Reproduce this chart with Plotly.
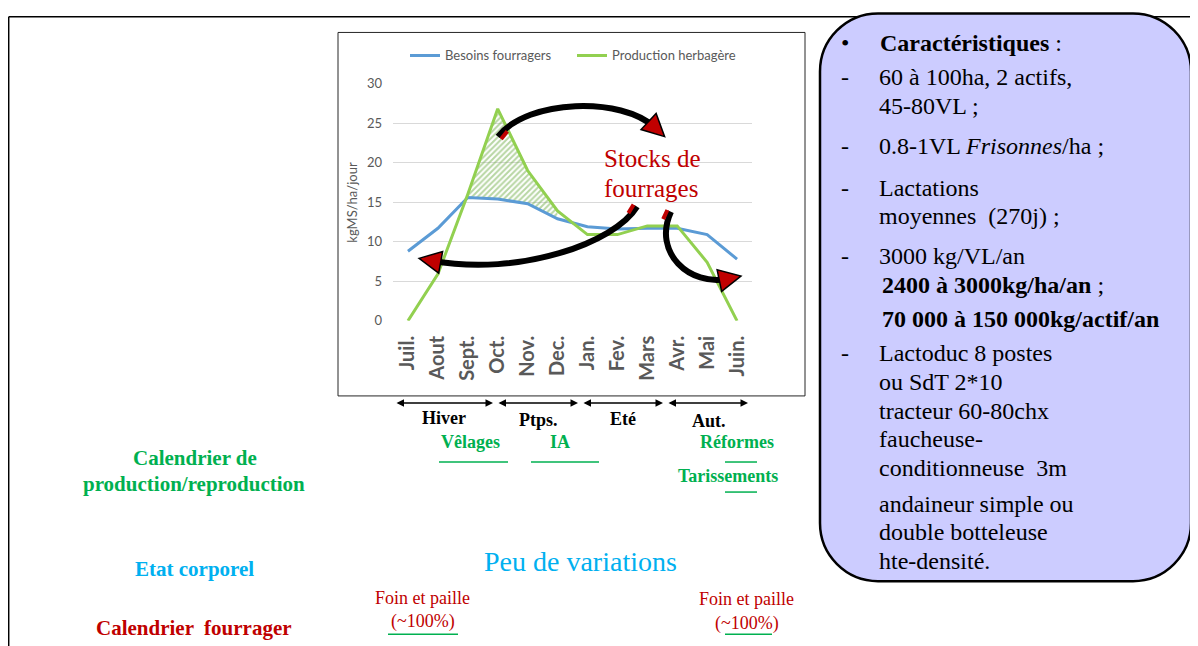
import plotly.graph_objects as go
import math

# ---------------- data ----------------
mois = ["Juil.", "Aout", "Sept.", "Oct.", "Nov.", "Dec.", "Jan.", "Fev.", "Mars", "Avr.", "Mai", "Juin."]
besoins_fourragers = [8.8, 11.7, 15.6, 15.4, 14.8, 12.9, 11.9, 11.6, 11.7, 11.7, 10.9, 7.8]
production_herbagere = [0, 5.9, 16.0, 26.8, 19.0, 13.9, 10.9, 10.9, 12.0, 12.0, 7.4, 0]
y_ticks = [0, 5, 10, 15, 20, 25, 30]
serie_noms = ["Besoins fourragers", "Production herbagère"]
excedent_debut, excedent_fin = 2, 6  # Sept. -> Dec. (hatched surplus)

saisons = ["Hiver", "Ptps.", "Eté", "Aut."]

# page offset / capture scaling compensation
OFFX, OFFY, SY = 8, 16, 0.974
W, H = 1190, 648


def px(x):
    return (x - OFFX) / W


def fy(y):
    return y / SY - OFFY


def py(y):
    return 1 - fy(y) / H


def P(x, y):
    return f"{px(x):.5f},{py(y):.5f}"


fig = go.Figure()

# hatched surplus between the two curves
fig.add_trace(go.Scatter(
    x=mois[excedent_debut:excedent_fin], y=besoins_fourragers[excedent_debut:excedent_fin],
    mode="lines", line=dict(width=0), showlegend=False, hoverinfo="skip"))
fig.add_trace(go.Scatter(
    x=mois[excedent_debut:excedent_fin], y=production_herbagere[excedent_debut:excedent_fin],
    mode="lines", line=dict(width=0), fill="tonexty", fillcolor="rgba(255,255,255,0)",
    fillpattern=dict(shape="/", fgcolor="#70AD47", bgcolor="rgba(255,255,255,0)", size=4, solidity=0.5),
    showlegend=False, hoverinfo="skip"))

fig.add_trace(go.Scatter(x=mois, y=besoins_fourragers, mode="lines", name=serie_noms[0],
                         line=dict(color="#5B9BD5", width=3)))
fig.add_trace(go.Scatter(x=mois, y=production_herbagere, mode="lines", name=serie_noms[1],
                         line=dict(color="#92D050", width=3)))

shapes = []
annotations = []

# outer slide frame (top edge clamped to the visible canvas)
top_y = 1 - 0.8 / H
shapes.append(dict(type="line", xref="paper", yref="paper", x0=px(8.7), y0=top_y, x1=px(1210), y1=top_y,
                   line=dict(color="#000000", width=1.5)))
shapes.append(dict(type="line", xref="paper", yref="paper", x0=px(8.7), y0=top_y, x1=px(8.7), y1=0,
                   line=dict(color="#000000", width=1.5)))
# chart box
shapes.append(dict(type="rect", xref="paper", yref="paper", x0=px(338), y0=py(32), x1=px(805), y1=py(395),
                   line=dict(color="#262626", width=1), layer="below"))

# rounded box on the right
L, T, R, B, r = 820, 13, 1191, 580, 58
k = 0.552 * r
box = (f"M{P(L + r, T)} L{P(R - r, T)} C{P(R - r + k, T)} {P(R, T + r - k)} {P(R, T + r)} "
       f"L{P(R, B - r)} C{P(R, B - r + k)} {P(R - r + k, B)} {P(R - r, B)} "
       f"L{P(L + r, B)} C{P(L + r - k, B)} {P(L, B - r + k)} {P(L, B - r)} "
       f"L{P(L, T + r)} C{P(L, T + r - k)} {P(L + r - k, T)} {P(L + r, T)} Z")
shapes.append(dict(type="path", xref="paper", yref="paper", path=box,
                   fillcolor="#CCCCFF", line=dict(color="#000000", width=2.5)))


# curved arrows (black body, red head)
def curved_arrow(p0, c1, c2, p1, head_len=22, head_w=11):
    path = f"M{P(*p0)} C{P(*c1)} {P(*c2)} {P(*p1)}"
    shapes.append(dict(type="path", xref="paper", yref="paper", path=path,
                       line=dict(color="#000000", width=6)))
    dx, dy = p1[0] - c2[0], p1[1] - c2[1]
    n = math.hypot(dx, dy)
    dx, dy = dx / n, dy / n
    nx, ny = -dy, dx
    tip = (p1[0] + dx * head_len * 0.6, p1[1] + dy * head_len * 0.6)
    base = (p1[0] - dx * head_len * 0.4, p1[1] - dy * head_len * 0.4)
    a = (base[0] + nx * head_w, base[1] + ny * head_w)
    b = (base[0] - nx * head_w, base[1] - ny * head_w)
    shapes.append(dict(type="path", xref="paper", yref="paper",
                       path=f"M{P(*tip)} L{P(*a)} L{P(*b)} Z",
                       fillcolor="#C00000", line=dict(color="#000000", width=1.5)))
    # small red tail accent
    ex, ey = c1[0] - p0[0], c1[1] - p0[1]
    m = math.hypot(ex, ey)
    ex, ey = ex / m, ey / m
    t0 = (p0[0] - ey * 4, p0[1] + ex * 4)
    t1 = (p0[0] + ex * 10 - ey * 4, p0[1] + ey * 10 + ex * 4)
    shapes.append(dict(type="line", xref="paper", yref="paper", x0=px(t0[0]), y0=py(t0[1]),
                       x1=px(t1[0]), y1=py(t1[1]), line=dict(color="#C00000", width=4)))


curved_arrow((498, 136), (528, 98), (622, 96), (655, 127))
curved_arrow((637, 206), (615, 242), (520, 276), (432, 260))
curved_arrow((671, 211), (652, 252), (690, 286), (728, 278))

# double arrows for seasons
season_bounds = [(395, 493), (497, 578), (582, 663), (667, 748)]
for x0, x1 in season_bounds:
    annotations.append(dict(xref="paper", yref="paper", x=px(x1), y=py(402), ax=-(x1 - x0), ay=0,
                            axref="pixel", ayref="pixel", text="", showarrow=True,
                            arrowhead=2, arrowside="end+start", startarrowhead=2,
                            arrowsize=1, startarrowsize=1, arrowwidth=1.5,
                            arrowcolor="#000000", standoff=0, startstandoff=0))

serif = "Liberation Serif"


def txt(x, y, s, size, color, xanchor="center", family=serif, angle=0):
    annotations.append(dict(xref="paper", yref="paper", x=px(x), y=py(y), text=s, showarrow=False,
                            xanchor=xanchor, yanchor="middle", textangle=angle,
                            font=dict(family=family, size=size, color=color)))


def hline(x0, x1, y, color="#00B050", w=1.5):
    shapes.append(dict(type="line", xref="paper", yref="paper", x0=px(x0), y0=py(y), x1=px(x1), y1=py(y),
                       line=dict(color=color, width=w)))


# season labels
for s, (cx, cy) in zip(saisons, [(444, 417), (538, 419), (623, 418), (709, 420)]):
    txt(cx, cy, f"<b>{s}</b>", 18, "#000000")

GREEN = "#00B050"
txt(470, 441, "<b>Vêlages</b>", 18, GREEN)
hline(439, 508, 461)
txt(560, 441, "<b>IA</b>", 18, GREEN)
hline(531, 599, 461)
txt(737, 441, "<b>Réformes</b>", 18, GREEN)
hline(725, 757, 461)
txt(728, 475, "<b>Tarissements</b>", 18, GREEN)
hline(725, 757, 491)

txt(195, 457, "<b>Calendrier de</b>", 21, GREEN)
txt(194, 483, "<b>production/reproduction</b>", 21, GREEN)
txt(194, 568, "<b>Etat corporel</b>", 21, "#00B0F0")
txt(194, 627, "<b>Calendrier  fourrager</b>", 21, "#C00000")
txt(580, 560, "Peu de variations", 28, "#00B0F0")

txt(422, 597, "Foin et paille", 18, "#C00000")
txt(423, 620, "(~100%)", 18, "#C00000")
hline(388, 458, 633)
txt(746, 598, "Foin et paille", 18, "#C00000")
txt(747, 622, "(~100%)", 18, "#C00000")
hline(725, 772, 633)

# chart inner texts
txt(602, 158, "Stocks de", 25, "#C00000", xanchor="left")
txt(602, 188, "fourrages", 25, "#C00000", xanchor="left")
txt(352, 202, "kgMS/ha/jour", 13, "#595959", family="Lato", angle=-90)

# right box text
box_lines = [
    (43, "•", "<b>Caractéristiques</b> :", 878),
    (77, "-", "60 à 100ha, 2 actifs,", 877),
    (105, None, "45-80VL ;", 877),
    (145, "-", "0.8-1VL <i>Frisonnes</i>/ha ;", 877),
    (187, "-", "Lactations", 877),
    (215, None, "moyennes  (270j) ;", 877),
    (255, "-", "3000 kg/VL/an", 877),
    (284, None, "<b>2400 à 3000kg/ha/an</b> ;", 880),
    (318, None, "<b>70 000 à 150 000kg/actif/an</b>", 880),
    (352, "-", "Lactoduc 8 postes", 877),
    (381, None, "ou SdT 2*10", 877),
    (410, None, "tracteur 60-80chx", 877),
    (438, None, "faucheuse-", 877),
    (467, None, "conditionneuse  3m", 877),
    (503, None, "andaineur simple ou", 877),
    (531, None, "double botteleuse", 877),
    (560, None, "hte-densité.", 877),
]
for y, mark, s, x in box_lines:
    if mark:
        txt(845, y, mark, 24, "#000000")
    txt(x, y, s, 24, "#000000", xanchor="left")

fig.update_layout(
    width=W, height=H,
    margin=dict(l=0, r=0, t=0, b=0),
    paper_bgcolor="white", plot_bgcolor="white",
    shapes=shapes, annotations=annotations,
    showlegend=True,
    legend=dict(orientation="h", x=px(405), y=py(40), xanchor="left", yanchor="top",
                traceorder="normal", entrywidth=122, entrywidthmode="pixels",
                font=dict(family="Lato", size=13, color="#595959"),
                bgcolor="rgba(0,0,0,0)", itemwidth=30, tracegroupgap=0),
    xaxis=dict(domain=[px(393), px(752)], type="category", range=[-0.5, 11.5],
               categoryorder="array", categoryarray=mois,
               tickangle=-90, tickfont=dict(family="Lato", size=20, color="#595959", weight="bold"),
               showgrid=False, zeroline=False, showline=False, ticks="", ticklabelstandoff=10),
    yaxis=dict(domain=[py(320), py(83)], range=[0, 30], tickvals=y_ticks,
               tickfont=dict(family="Lato", size=13, color="#595959"),
               showgrid=True, gridcolor="#D9D9D9", gridwidth=1, zeroline=False, showline=False,
               ticks="", ticklabelstandoff=10),
)

fig.write_html("out.html")
